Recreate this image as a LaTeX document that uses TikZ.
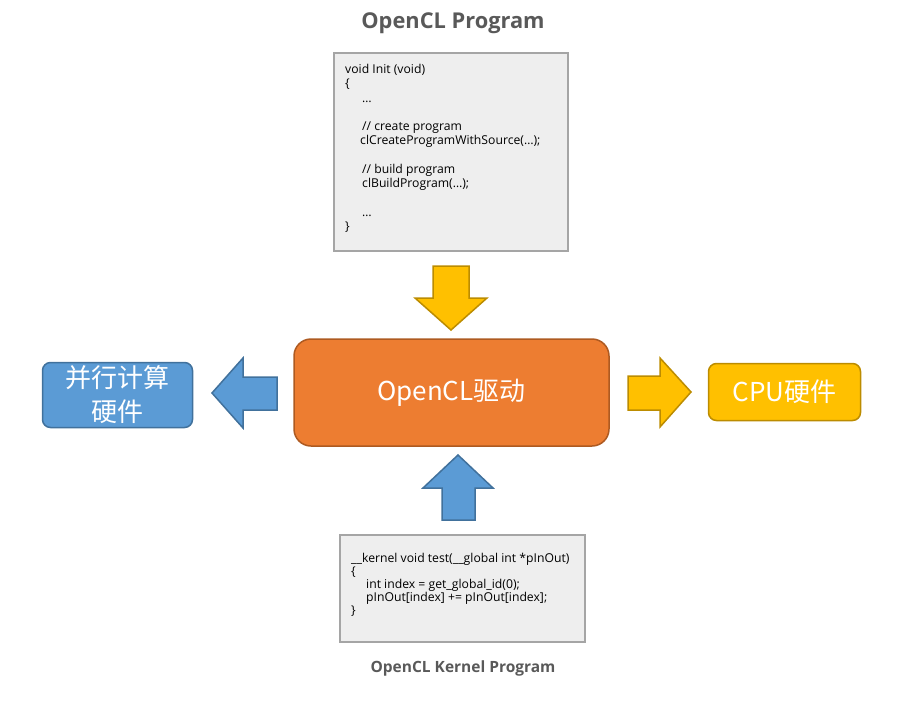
\documentclass[tikz,border=0pt]{standalone}
\usepackage{fontspec}
\setmainfont{Open Sans}
\newfontfamily\cjkf{Noto Sans CJK SC}
\newfontfamily\codef{Open Sans}
\definecolor{boxgray}{HTML}{EEEEEE}
\definecolor{boxline}{HTML}{A5A5A5}
\definecolor{titlegray}{HTML}{595959}
\definecolor{orfill}{HTML}{ED7D31}
\definecolor{orline}{HTML}{AE5A21}
\definecolor{blfill}{HTML}{5B9BD5}
\definecolor{blline}{HTML}{41719C}
\definecolor{yefill}{HTML}{FFC000}
\definecolor{yeline}{HTML}{BC8C00}
\begin{document}
\begin{tikzpicture}[x=1pt,y=-1pt,
  titletext/.style={font=\codef\bfseries\fontsize{21.8}{26}\selectfont, text=titlegray, inner sep=0pt},
  codebox/.style={draw=boxline, fill=boxgray, line width=2.5pt, inner sep=0pt},
  codetext/.style={font=\codef\fontsize{12.2}{14.3}\selectfont, align=left, inner sep=0pt, text=black},
  blockbox/.style={line width=1.5pt, rounded corners=8pt, inner sep=0pt, text=white,
     font=\cjkf\fontsize{26}{34}\selectfont, align=center},
  yarrow/.style={fill=yefill, draw=yeline, line width=1.5pt, line join=miter},
  barrow/.style={fill=blfill, draw=blline, line width=1.5pt, line join=miter}
]
\path[use as bounding box] (0,0) rectangle (912,712);

% top title
\node[titletext] (t1) at (453,23) {OpenCL Program};

% top code box
\node[codebox, minimum width=234pt, minimum height=198pt] (prog) at (451,152) {};
\node[codetext, anchor=north west] (progcode) at (345,64) {void Init (void)\\
{\{}\\
\hspace{17pt}…\\[14.3pt]
\hspace{17pt}// create program\\
\hspace{15pt}clCreateProgramWithSource(…);\\[14.3pt]
\hspace{17pt}// build program\\
\hspace{17pt}clBuildProgram(…);\\[14.3pt]
\hspace{17pt}…\\
\}};

% down arrow (yellow)
\draw[yarrow] (433,266) -- (469,266) -- (469,298) -- (487,298) -- (451,330) -- (415,298) -- (433,298) -- cycle;

% center driver box
\node[blockbox, fill=orfill, draw=orline, rounded corners=17pt, minimum width=315pt, minimum height=107pt] (drv) at (451.5,392.5) {OpenCL驱动};

% left arrow (blue)
\draw[barrow] (277,377) -- (243,377) -- (243,358) -- (212,393) -- (243,428) -- (243,410) -- (277,410) -- cycle;

% parallel hardware box
\node[blockbox, fill=blfill, draw=blline, minimum width=150pt, minimum height=65pt] (par) at (117.5,395) {并行计算\\硬件};

% right arrow (yellow)
\draw[yarrow] (628,376) -- (660,376) -- (660,358) -- (691,392) -- (660,427) -- (660,410) -- (628,410) -- cycle;

% CPU box
\node[blockbox, fill=yefill, draw=yeline, minimum width=152pt, minimum height=57pt] (cpu) at (784.5,392) {CPU硬件};

% up arrow (blue)
\draw[barrow] (442,520) -- (442,488) -- (423,488) -- (458,455) -- (493,488) -- (475,488) -- (475,520) -- cycle;

% bottom kernel box
\node[codebox, minimum width=245pt, minimum height=107pt] (kern) at (462.5,588.5) {};
\node[codetext, font=\codef\fontsize{12.2}{13}\selectfont, anchor=north west] (kerncode) at (351,553) {\_\_kernel void test(\_\_global int *pInOut)\\
\{\\
\hspace{15pt}int index = get\_global\_id(0);\\
\hspace{15pt}pInOut[index] += pInOut[index];\\
\}};

% bottom title
\node[titletext, font=\codef\bfseries\fontsize{15.5}{18}\selectfont] (t2) at (463,668) {OpenCL Kernel Program};
\end{tikzpicture}
\end{document}
